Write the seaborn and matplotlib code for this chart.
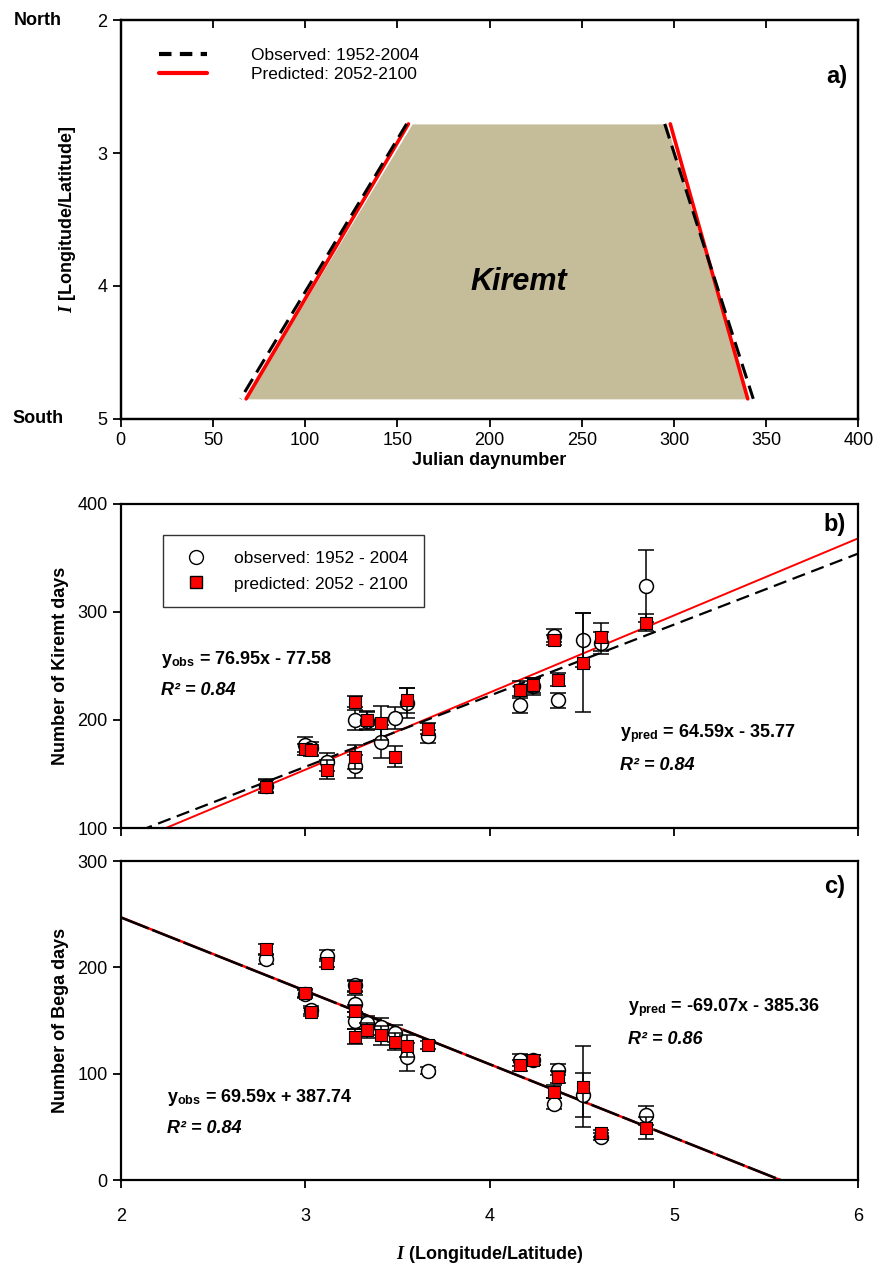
import numpy as np
import matplotlib
matplotlib.use("Agg")
import matplotlib.pyplot as plt
import matplotlib.transforms as mtransforms
from matplotlib.lines import Line2D
import seaborn as sns

# ---- panel a: onset / end of Kiremt season vs index
lat_edge = [2.78, 4.85]
onset_obs = [155, 65]
onset_pred = [156, 68]
end_obs = [295, 343]
end_pred = [298, 340]

# ---- panel b: Kiremt days per station
xb = [2.79, 3.00, 3.03, 3.12, 3.27, 3.27, 3.335, 3.41, 3.485, 3.55, 3.665,
      4.165, 4.235, 4.35, 4.37, 4.505, 4.605, 4.85]
kir_obs = [139, 177, 174, 161, 200, 157, 199, 180, 202, 216, 185,
           214, 231, 278, 218, 274, 271, 324]
kir_obs_err = [6, 7, 6, 8, 9, 11, 8, 15, 10, 14, 6, 8, 8, 6, 7, 25, 10, 33]
kir_pred = [138, 173, 172, 154, 217, 166, 200, 197, 166, 218, 192,
            228, 232, 274, 237, 253, 277, 290]
kir_pred_err = [6, 5, 5, 9, 5, 11, 8, 16, 10, 12, 5, 8, 7, 5, 6, 46, 13, 8]
fit_b_obs = (65.8, -40.8)
fit_b_pred = (71.4, -60.3)

# ---- panel c: Bega days per station
xc = [2.79, 3.00, 3.03, 3.12, 3.27, 3.27, 3.27, 3.335, 3.41, 3.485, 3.55,
      3.665, 4.165, 4.235, 4.35, 4.37, 4.505, 4.605, 4.85]
bega_obs = [208, 175, 160, 211, 183, 166, 150, 148, 144, 138, 116,
            103, 113, 113, 72, 104, 80, 41, 61]
bega_obs_err = [5, 4, 4, 5, 5, 8, 8, 6, 8, 8, 13, 3, 6, 5, 5, 5, 21, 3, 9]
bega_pred = [217, 176, 158, 204, 182, 159, 135, 141, 136, 130, 126,
             127, 108, 113, 83, 97, 88, 44, 49]
bega_pred_err = [5, 4, 4, 4, 5, 6, 7, 7, 9, 8, 10, 4, 5, 5, 6, 6, 38, 3, 10]
fit_c_obs = (-69.0, 385.0)
fit_c_pred = (-69.07, 385.3)

sns.set_theme(style="ticks")
plt.rcParams["font.family"] = ["Liberation Sans", "DejaVu Sans"]
plt.rcParams["mathtext.fontset"] = "custom"
plt.rcParams["mathtext.rm"] = "Liberation Sans:bold"
plt.rcParams["mathtext.it"] = "Liberation Serif:italic:bold"
plt.rcParams["text.color"] = "black"
plt.rcParams["axes.labelcolor"] = "black"
plt.rcParams["axes.linewidth"] = 1.6
plt.rcParams["xtick.major.width"] = 1.3
plt.rcParams["ytick.major.width"] = 1.3
plt.rcParams["xtick.major.size"] = 6
plt.rcParams["ytick.major.size"] = 6

fig = plt.figure(figsize=(8.75, 12.69), dpi=100)
ax_a = fig.add_axes([0.138, 0.670, 0.843, 0.314])
ax_b = fig.add_axes([0.138, 0.3475, 0.843, 0.2555])
ax_c = fig.add_axes([0.138, 0.070, 0.843, 0.2515])

for ax in (ax_a, ax_b, ax_c):
    for s in ax.spines.values():
        s.set_visible(True)
        s.set_color("black")
    ax.tick_params(labelsize=13, colors="black")

# ================= panel a
ax_a.fill_betweenx(lat_edge, [onset_pred[0] + 2, onset_pred[1]],
                   [end_obs[0] + 1, end_pred[1]], color="#c5bc9a", lw=0)
sns.lineplot(x=onset_pred, y=lat_edge, ax=ax_a, color="red", lw=2.6, sort=False)
sns.lineplot(x=end_pred, y=lat_edge, ax=ax_a, color="red", lw=2.6, sort=False)
sns.lineplot(x=onset_obs, y=lat_edge, ax=ax_a, color="black", lw=2.2,
             sort=False, dashes=False, linestyle=(0, (5, 2.5)))
sns.lineplot(x=end_obs, y=lat_edge, ax=ax_a, color="black", lw=2.2,
             sort=False, dashes=False, linestyle=(0, (5, 2.5)))
ax_a.set_xlim(0, 400)
ax_a.set_ylim(5, 2)
ax_a.set_xticks(range(0, 401, 50))
ax_a.set_yticks([2, 3, 4, 5])
top_a = ax_a.twiny()
top_a.set_xlim(0, 400)
top_a.set_xticks(range(0, 401, 50))
top_a.tick_params(axis="x", direction="in", top=True, labeltop=False,
                  length=6, width=1.3, colors="black")
for s in top_a.spines.values():
    s.set_color("black")
ax_a.set_xlabel("Julian daynumber", fontsize=13, fontweight="bold", labelpad=2)
ax_a.set_ylabel(r"$\mathit{I}$ [Longitude/Latitude]", fontsize=13,
                fontweight="bold", labelpad=14)
ax_a.text(216, 3.97, "Kiremt", fontsize=22, fontweight="bold",
          style="italic", ha="center", va="center")
ax_a.text(0.985, 0.86, "a)", transform=ax_a.transAxes, fontsize=17,
          fontweight="bold", ha="right", va="center")
blend = mtransforms.blended_transform_factory(ax_a.transAxes, ax_a.transData)
ax_a.text(-0.112, 2, "North", transform=blend, fontsize=13,
          fontweight="bold", ha="center", va="center")
ax_a.text(-0.112, 5, "South", transform=blend, fontsize=13,
          fontweight="bold", ha="center", va="center")
h_a = [Line2D([], [], color="black", lw=3, linestyle=(0, (3, 2))),
       Line2D([], [], color="red", lw=3)]
ax_a.legend(h_a, ["Observed: 1952-2004", "Predicted: 2052-2100"],
            loc="upper left", bbox_to_anchor=(0.03, 0.97), frameon=False,
            fontsize=12.5, handlelength=2.8, handletextpad=2.5,
            labelspacing=0.2)


def station_panel(ax, x, obs, obs_err, pred, pred_err):
    ax.errorbar(x, obs, yerr=obs_err, fmt="none", ecolor="black",
                elinewidth=1.1, capsize=6, capthick=1.1, zorder=3)
    sns.scatterplot(x=x, y=obs, ax=ax, marker="o", s=100, color="white",
                    edgecolor="black", linewidth=1.1, zorder=4)
    ax.errorbar(x, pred, yerr=pred_err, fmt="none", ecolor="black",
                elinewidth=1.1, capsize=6, capthick=1.1, zorder=5)
    sns.scatterplot(x=x, y=pred, ax=ax, marker="s", s=70, color="red",
                    edgecolor="black", linewidth=0.8, zorder=6)


# ================= panel b
xline = np.linspace(2, 6, 50)
sns.lineplot(x=xline, y=fit_b_pred[0] * xline + fit_b_pred[1], ax=ax_b,
             color="red", lw=1.4, zorder=2)
sns.lineplot(x=xline, y=fit_b_obs[0] * xline + fit_b_obs[1], ax=ax_b,
             color="black", lw=1.6, linestyle=(0, (6, 3)), zorder=2)
station_panel(ax_b, xb, kir_obs, kir_obs_err, kir_pred, kir_pred_err)
ax_b.set_xlim(2, 6)
ax_b.set_ylim(100, 400)
ax_b.set_xticks([2, 3, 4, 5, 6])
ax_b.set_xticklabels([])
ax_b.set_yticks([100, 200, 300, 400])
ax_b.set_ylabel("Number of Kiremt days", fontsize=13, fontweight="bold",
                labelpad=6)
ax_b.set_xlabel("")
ax_b.text(5.93, 381, "b)", fontsize=17, fontweight="bold", ha="right",
          va="center")
ax_b.text(2.22, 256, r"y$_{\mathrm{obs}}$ = 76.95x - 77.58", fontsize=13,
          fontweight="bold", va="center")
ax_b.text(2.22, 227, "R\u00b2 = 0.84", fontsize=13,
          fontweight="bold", style="italic", va="center")
ax_b.text(4.71, 187, r"y$_{\mathrm{pred}}$ = 64.59x - 35.77", fontsize=13,
          fontweight="bold", va="center")
ax_b.text(4.71, 158, "R\u00b2 = 0.84", fontsize=13,
          fontweight="bold", style="italic", va="center")
h_b = [Line2D([], [], marker="o", ls="", ms=10, mfc="white", mec="black"),
       Line2D([], [], marker="s", ls="", ms=8, mfc="red", mec="black")]
leg = ax_b.legend(h_b, ["observed: 1952 - 2004", "predicted: 2052 - 2100"],
                  loc="upper left", bbox_to_anchor=(0.045, 0.93),
                  fontsize=12.5, frameon=True, fancybox=False,
                  edgecolor="black", handletextpad=1.2, borderpad=0.9,
                  labelspacing=0.6)
leg.get_frame().set_linewidth(1.0)

# ================= panel c
sns.lineplot(x=xline, y=fit_c_pred[0] * xline + fit_c_pred[1], ax=ax_c,
             color="red", lw=1.8, zorder=2)
sns.lineplot(x=xline, y=fit_c_obs[0] * xline + fit_c_obs[1], ax=ax_c,
             color="black", lw=1.8, linestyle=(0, (12, 1.5)), zorder=2)
station_panel(ax_c, xc, bega_obs, bega_obs_err, bega_pred, bega_pred_err)
ax_c.set_xlim(2, 6)
ax_c.set_ylim(0, 300)
ax_c.set_xticks([2, 3, 4, 5, 6])
ax_c.set_yticks([0, 100, 200, 300])
ax_c.set_ylabel("Number of Bega days", fontsize=13, fontweight="bold",
                labelpad=6)
ax_c.tick_params(axis="x", pad=14)
ax_c.set_xlabel(r"$\mathit{I}$ (Longitude/Latitude)", fontsize=13,
                fontweight="bold", labelpad=14)
ax_c.text(5.93, 276, "c)", fontsize=17, fontweight="bold", ha="right",
          va="center")
ax_c.text(4.75, 162, r"y$_{\mathrm{pred}}$ = -69.07x - 385.36", fontsize=13,
          fontweight="bold", va="center")
ax_c.text(4.75, 132, "R\u00b2 = 0.86", fontsize=13,
          fontweight="bold", style="italic", va="center")
ax_c.text(2.25, 78, r"y$_{\mathrm{obs}}$ = 69.59x + 387.74", fontsize=13,
          fontweight="bold", va="center")
ax_c.text(2.25, 49, "R\u00b2 = 0.84", fontsize=13,
          fontweight="bold", style="italic", va="center")

fig.savefig("out.png", dpi=100)
